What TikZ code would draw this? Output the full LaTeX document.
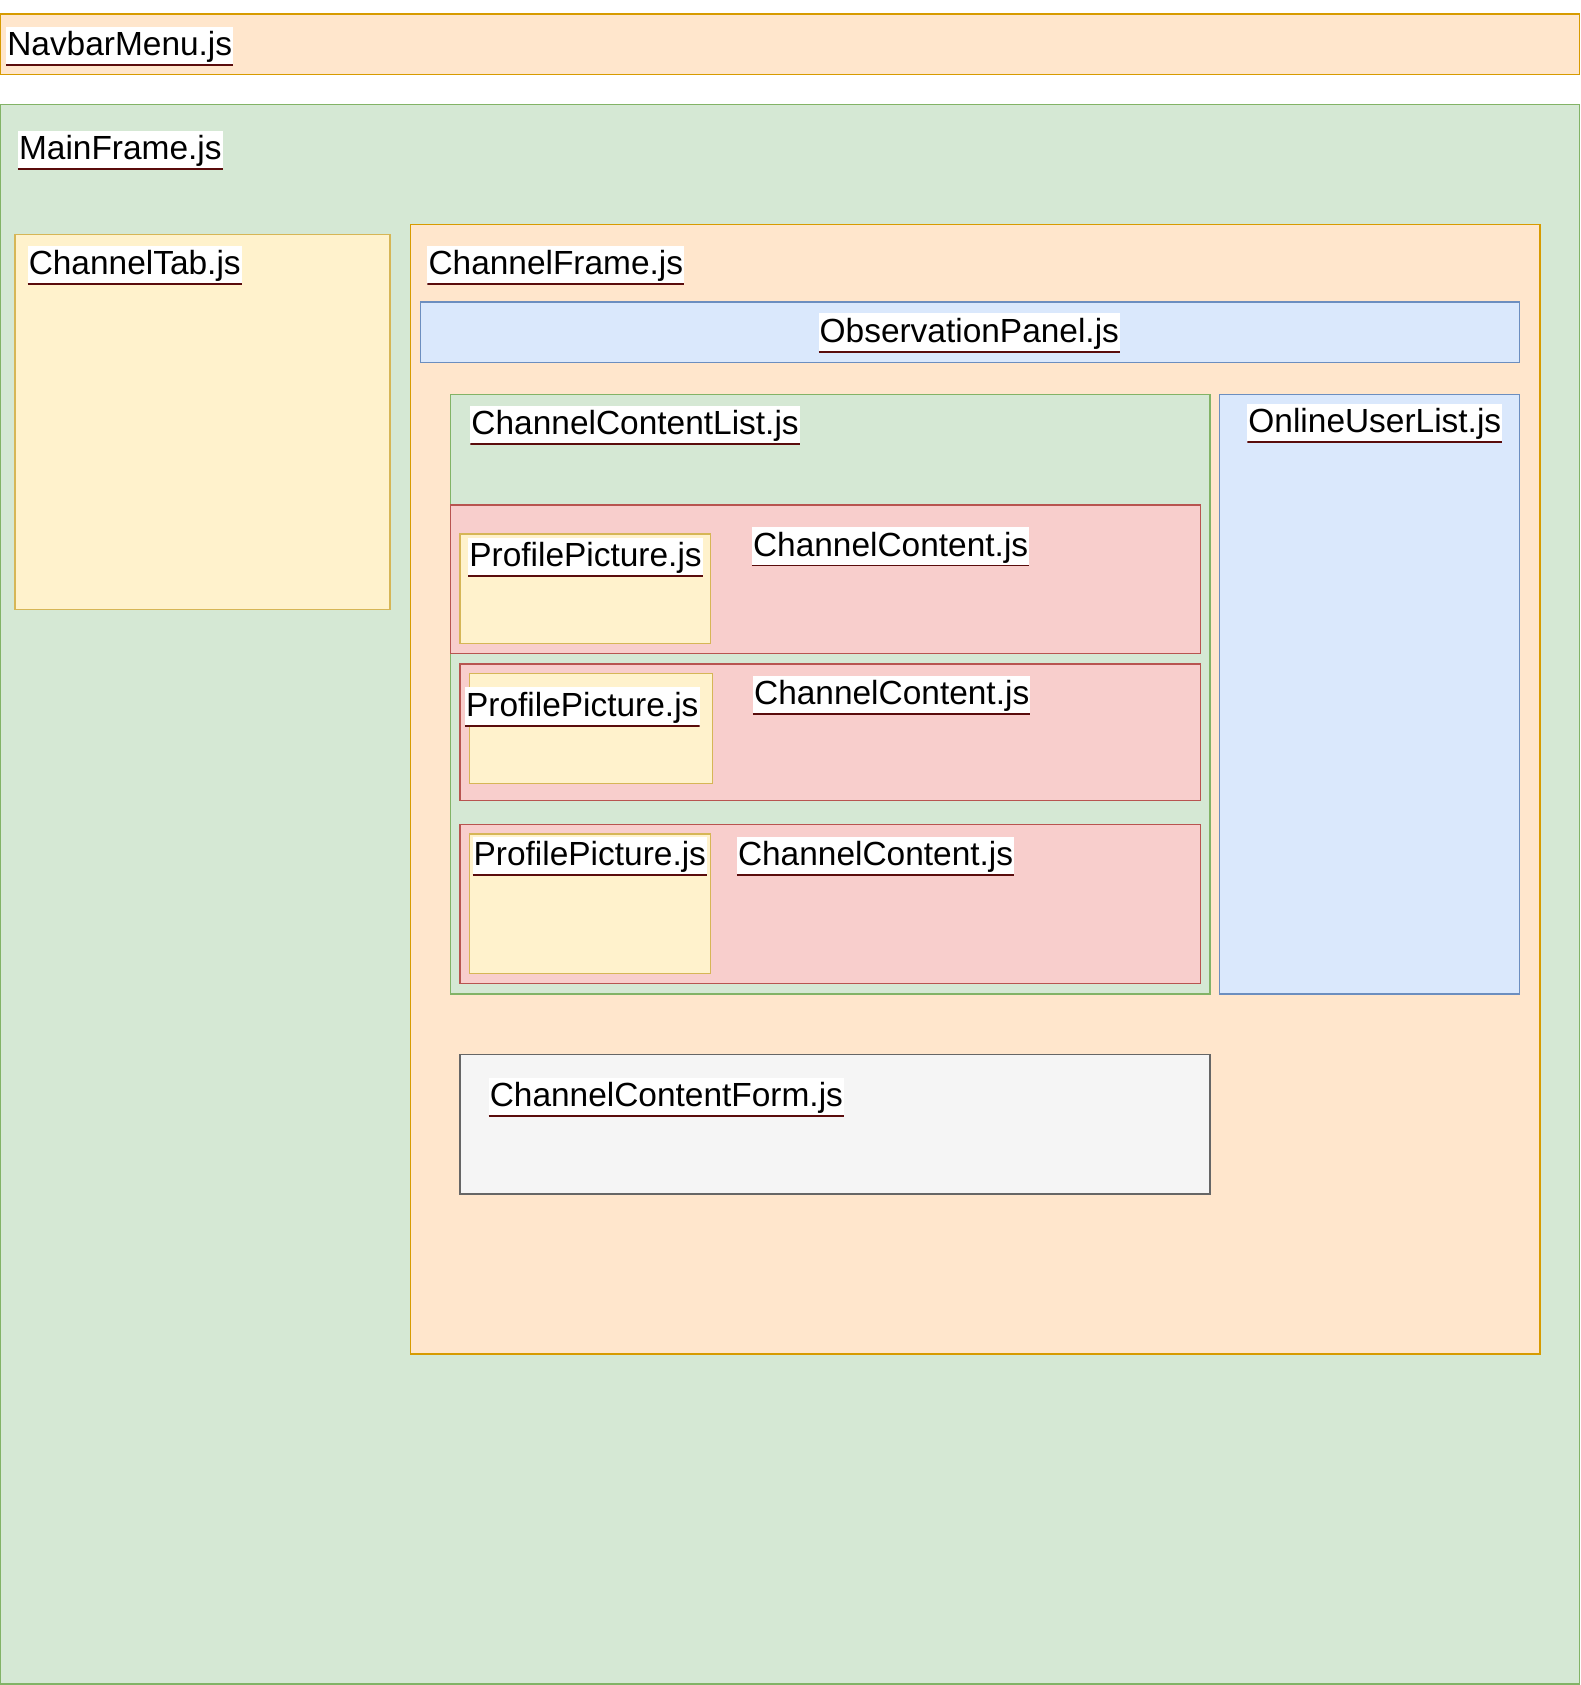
\documentclass[tikz,border=0pt]{standalone}
\usepackage{fontspec}
\setmainfont{Liberation Sans}
\definecolor{orangefill}{HTML}{FFE6CC}
\definecolor{orangeline}{HTML}{D79B00}
\definecolor{greenfill}{HTML}{D5E8D4}
\definecolor{greenline}{HTML}{82B366}
\definecolor{yellowfill}{HTML}{FFF2CC}
\definecolor{yellowline}{HTML}{D6B656}
\definecolor{bluefill}{HTML}{DAE8FC}
\definecolor{blueline}{HTML}{6C8EBF}
\definecolor{redfill}{HTML}{F8CECC}
\definecolor{redline}{HTML}{B85450}
\definecolor{grayfill}{HTML}{F5F5F5}
\definecolor{grayline}{HTML}{666666}
\definecolor{ulinecol}{HTML}{5A0C0C}
\begin{document}
\begin{tikzpicture}[
  x=0.01cm, y=-0.01cm,
  box/.style={line width=0.35pt},
  orangebox/.style={box, fill=orangefill, draw=orangeline},
  greenbox/.style={box, fill=greenfill, draw=greenline},
  yellowbox/.style={box, fill=yellowfill, draw=yellowline},
  bluebox/.style={box, fill=bluefill, draw=blueline},
  redbox/.style={box, fill=redfill, draw=redline},
  graybox/.style={box, fill=grayfill, draw=grayline},
  lbl/.style={anchor=north west, fill=white, inner xsep=0.3pt, inner ysep=0.6pt,
    text height=7pt, text depth=2pt,
    path picture={\draw[ulinecol, line width=0.6pt]
      (path picture bounding box.south west) -- (path picture bounding box.south east);}},
  font=\fontsize{8.85}{10}\selectfont
]
\useasboundingbox (0,0) rectangle (1471,1568);

% frames
\draw[greenbox] (0,97) rectangle (1470,1567);
\draw[orangebox] (0,13) rectangle (1470,69);
\draw[yellowbox] (14,218) rectangle (363,567);
\draw[orangebox] (382,209) rectangle (1433,1260);
\draw[bluebox] (391,281) rectangle (1414,337);
\draw[greenbox] (419,367) rectangle (1126,925);
\draw[bluebox] (1135,367) rectangle (1414,925);

% content rows
\draw[redbox] (419,470) rectangle (1117,608);
\draw[yellowbox] (428,497) rectangle (661,599);
\draw[redbox] (428,618) rectangle (1117,745);
\draw[yellowbox] (437,627) rectangle (663,729);
\draw[redbox] (428,767) rectangle (1117,915);
\draw[yellowbox] (437,776) rectangle (661,906);

\draw[graybox] (428,981) rectangle (1126,1111);

% labels
\node[lbl] (navbar) at (5,24) {NavbarMenu.js};
\node[lbl] (mainframe) at (16,121) {MainFrame.js};
\node[lbl] (channeltab) at (25,228) {ChannelTab.js};
\node[lbl] (channelframe) at (397,228) {ChannelFrame.js};
\node[lbl] (observation) at (761,291) {ObservationPanel.js};
\node[lbl] (contentlist) at (437,377) {ChannelContentList.js};
\node[lbl] (onlineusers) at (1160,375) {OnlineUserList.js};
\node[lbl] (picture1) at (435,500) {ProfilePicture.js};
\node[lbl] (content1) at (699,490) {ChannelContent.js};
\node[lbl] (picture2) at (432,639) {ProfilePicture.js};
\node[lbl] (content2) at (700,628) {ChannelContent.js};
\node[lbl] (picture3) at (439,778) {ProfilePicture.js};
\node[lbl] (content3) at (685,778) {ChannelContent.js};
\node[lbl] (contentform) at (454,1002) {ChannelContentForm.js};
\end{tikzpicture}
\end{document}
